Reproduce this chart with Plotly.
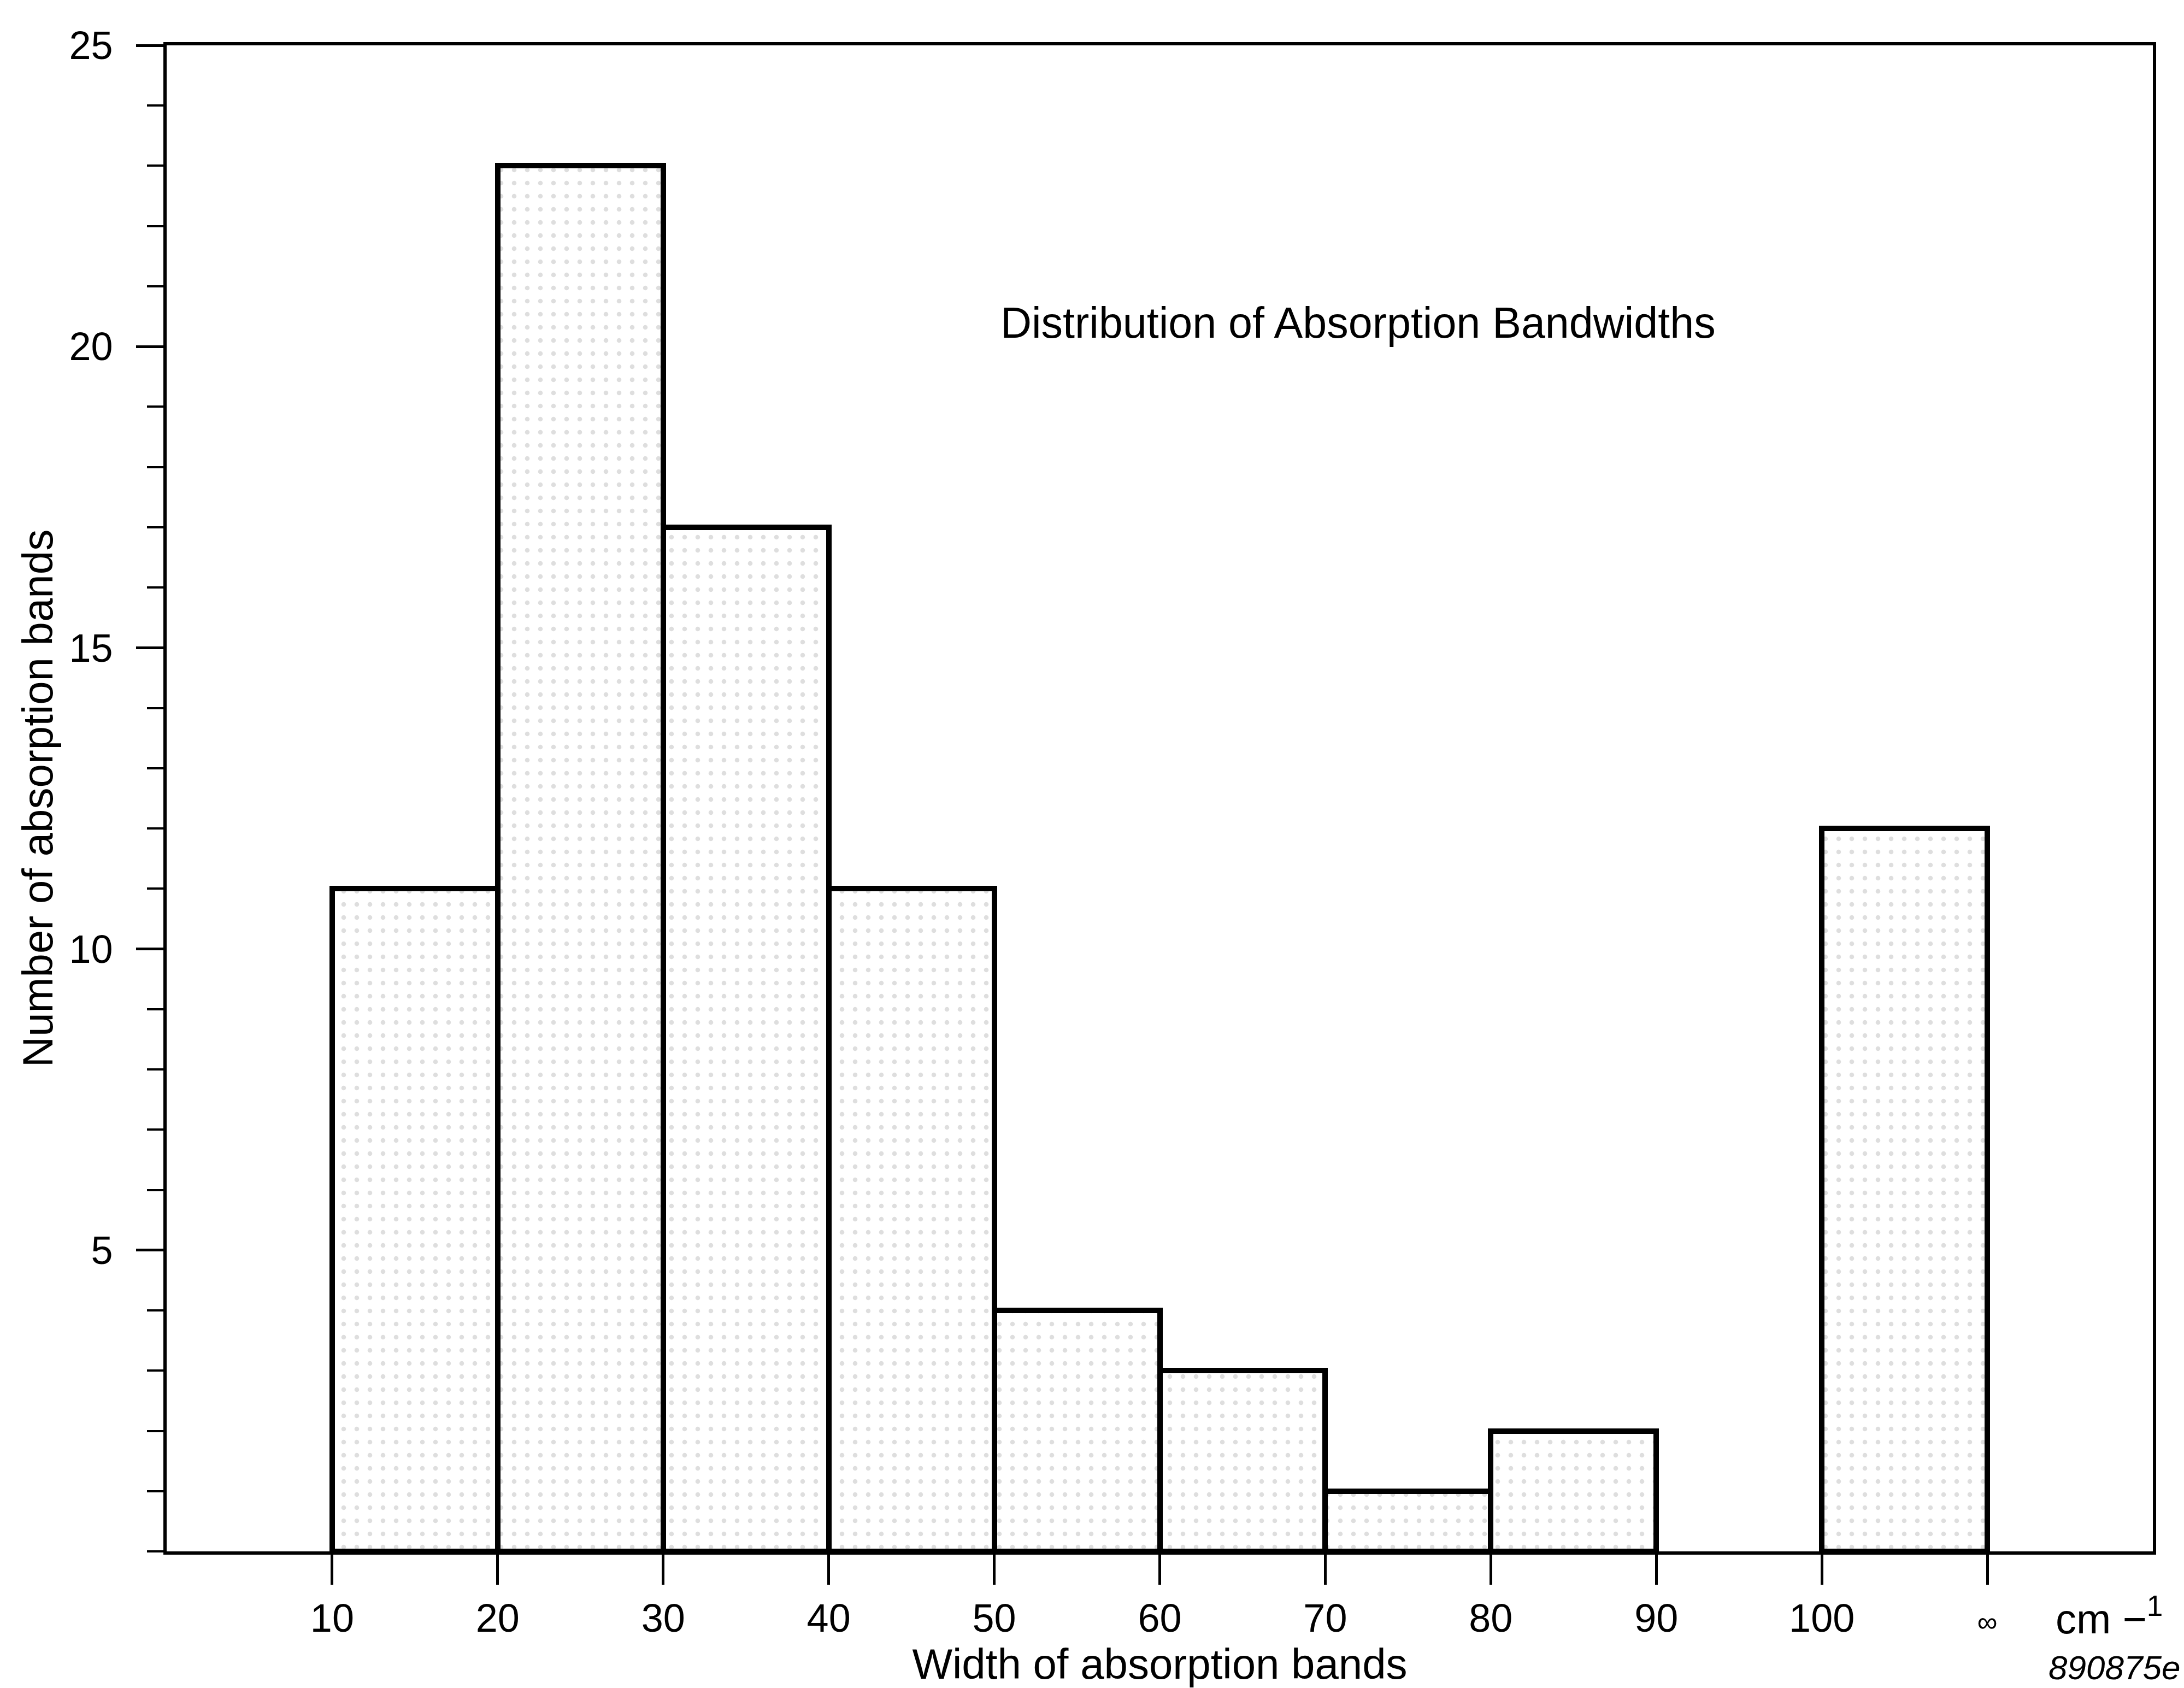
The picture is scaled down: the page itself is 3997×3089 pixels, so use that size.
import plotly.graph_objects as go

# Data
bin_left = [10, 20, 30, 40, 50, 60, 70, 80, 90, 100]
counts = [11, 23, 17, 11, 4, 3, 1, 2, 0, 12]
x_tickvals = [10, 20, 30, 40, 50, 60, 70, 80, 90, 100, 110]
x_ticktext = ["10", "20", "30", "40", "50", "60", "70", "80", "90", "100",
              "<span style='font-size:52px'>∞</span>"]
y_tickvals = [5, 10, 15, 20, 25]

FONT = "Liberation Sans, Arial, sans-serif"

W, H = 3997, 3089
ML, MR, MT, MB = 305, 57, 83, 250
PW, PH = W - ML - MR, H - MT - MB


def px_to_paper(px, py):
    return (px - ML) / PW, (H - MB - py) / PH


# skip empty bins (no bar drawn in reference)
bx = [b for b, c in zip(bin_left, counts) if c > 0]
by = [c for c in counts if c > 0]

fig = go.Figure()
fig.add_trace(go.Bar(
    x=bx,
    y=by,
    width=10,
    offset=0,
    marker=dict(
        color="white",
        line=dict(color="black", width=10),
        pattern=dict(shape=".", fgcolor="#bdbdbd", bgcolor="white", size=24, solidity=0.1),
    ),
    showlegend=False,
))

cm_x, cm_y = px_to_paper(3760, 2957)
id_x, id_y = px_to_paper(3992, 3051)

fig.update_layout(
    width=W,
    height=H,
    margin=dict(l=ML, r=MR, t=MT, b=MB),
    paper_bgcolor="white",
    plot_bgcolor="white",
    font=dict(family=FONT, size=70, color="black"),
    bargap=0,
    xaxis=dict(
        range=[0, 120],
        tickvals=x_tickvals,
        ticktext=x_ticktext,
        ticks="outside",
        ticklen=55,
        tickwidth=5,
        tickcolor="black",
        showline=True,
        linewidth=6,
        linecolor="black",
        mirror=True,
        showgrid=False,
        zeroline=False,
        tickfont=dict(size=72),
        title=dict(text="Width of absorption bands", font=dict(size=78), standoff=14),
    ),
    yaxis=dict(
        range=[0, 25],
        tickvals=y_tickvals,
        ticks="outside",
        ticklen=50,
        tickwidth=5,
        tickcolor="black",
        minor=dict(dtick=1, ticks="outside", ticklen=30, tickwidth=4, tickcolor="black", showgrid=False),
        showline=True,
        linewidth=6,
        linecolor="black",
        mirror=True,
        showgrid=False,
        zeroline=False,
        tickfont=dict(size=72),
        ticklabelstandoff=28,
        title=dict(text="Number of absorption bands", font=dict(size=78), standoff=6),
    ),
    annotations=[
        dict(x=50.3, y=20.4, xref="x", yref="y", text="Distribution of Absorption Bandwidths",
             showarrow=False, xanchor="left", yanchor="middle", font=dict(size=79)),
        dict(x=cm_x, y=cm_y, xref="paper", yref="paper",
             text="cm −<sup>1</sup>", showarrow=False, xanchor="left", yanchor="middle",
             font=dict(size=76)),
        dict(x=id_x, y=id_y, xref="paper", yref="paper",
             text="<i>890875e</i>", showarrow=False, xanchor="right", yanchor="middle",
             font=dict(size=62)),
    ],
)

fig.write_html("out.html")
